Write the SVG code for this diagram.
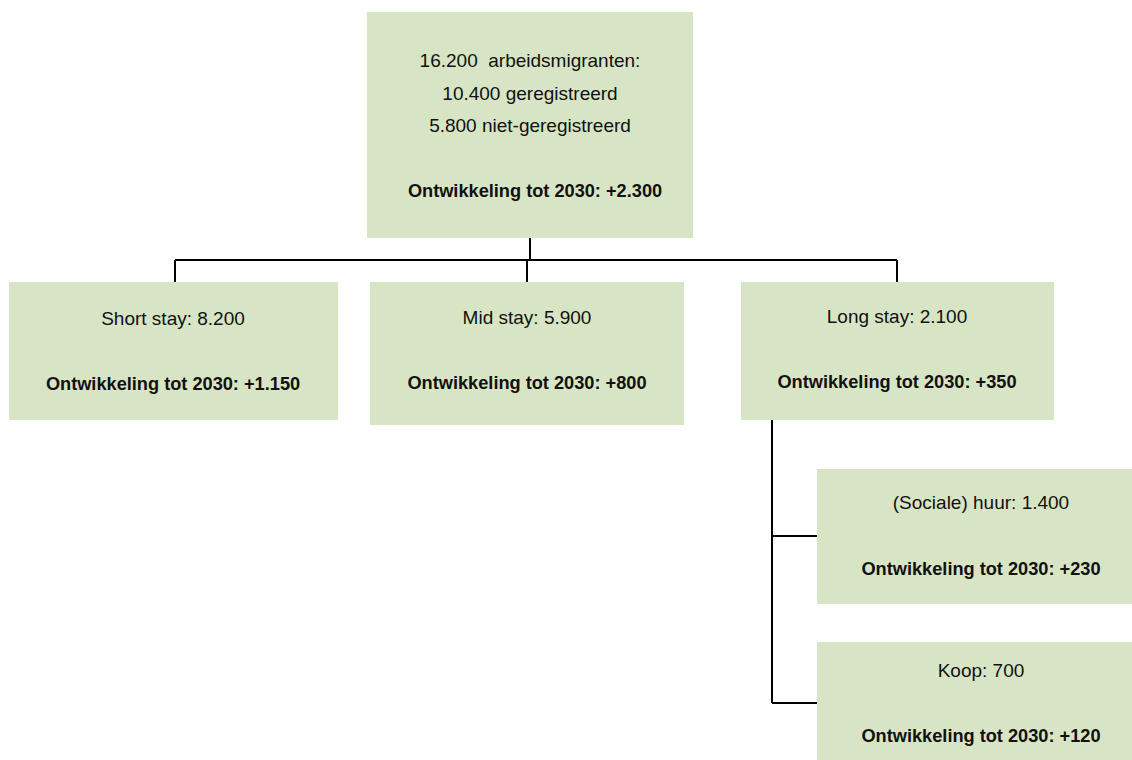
<svg xmlns="http://www.w3.org/2000/svg" width="1132" height="760" viewBox="0 0 1132 760">
<style>
.box{fill:#d8e5c4}
.t{font-family:"Liberation Sans",Arial,sans-serif;font-size:19px;fill:#111;text-anchor:middle;white-space:pre}
.b{font-weight:bold;font-size:18.2px}
.c{stroke:#000;stroke-width:2;fill:none}
</style>
<rect width="1132" height="760" fill="#fff"/>
<g id="connectors">
<path class="c" d="M530 238V260M175 260H897M175 260V282M527 260V282M897 260V282"/>
<path class="c" d="M772 420V703M772 536H817M772 703H817"/>
</g>
<g id="n-top">
<rect class="box" x="367" y="12" width="326" height="226"/>
<text class="t" x="530" y="67" xml:space="preserve">16.200  arbeidsmigranten:</text>
<text class="t" x="530" y="100">10.400 geregistreerd</text>
<text class="t" x="530" y="132">5.800 niet-geregistreerd</text>
<text class="t b" x="535" y="197">Ontwikkeling tot 2030: +2.300</text>
</g>
<g id="n-short">
<rect class="box" x="9" y="282" width="329" height="138"/>
<text class="t" x="173" y="325">Short stay: 8.200</text>
<text class="t b" x="173" y="390">Ontwikkeling tot 2030: +1.150</text>
</g>
<g id="n-mid">
<rect class="box" x="370" y="282" width="314" height="143"/>
<text class="t" x="527" y="324">Mid stay: 5.900</text>
<text class="t b" x="527" y="389">Ontwikkeling tot 2030: +800</text>
</g>
<g id="n-long">
<rect class="box" x="741" y="282" width="313" height="138"/>
<text class="t" x="897" y="323">Long stay: 2.100</text>
<text class="t b" x="897" y="388">Ontwikkeling tot 2030: +350</text>
</g>
<g id="n-huur">
<rect class="box" x="817" y="469" width="330" height="135"/>
<text class="t" x="981" y="509">(Sociale) huur: 1.400</text>
<text class="t b" x="981" y="575">Ontwikkeling tot 2030: +230</text>
</g>
<g id="n-koop">
<rect class="box" x="817" y="642" width="330" height="118"/>
<text class="t" x="981" y="677">Koop: 700</text>
<text class="t b" x="981" y="742">Ontwikkeling tot 2030: +120</text>
</g>
</svg>
